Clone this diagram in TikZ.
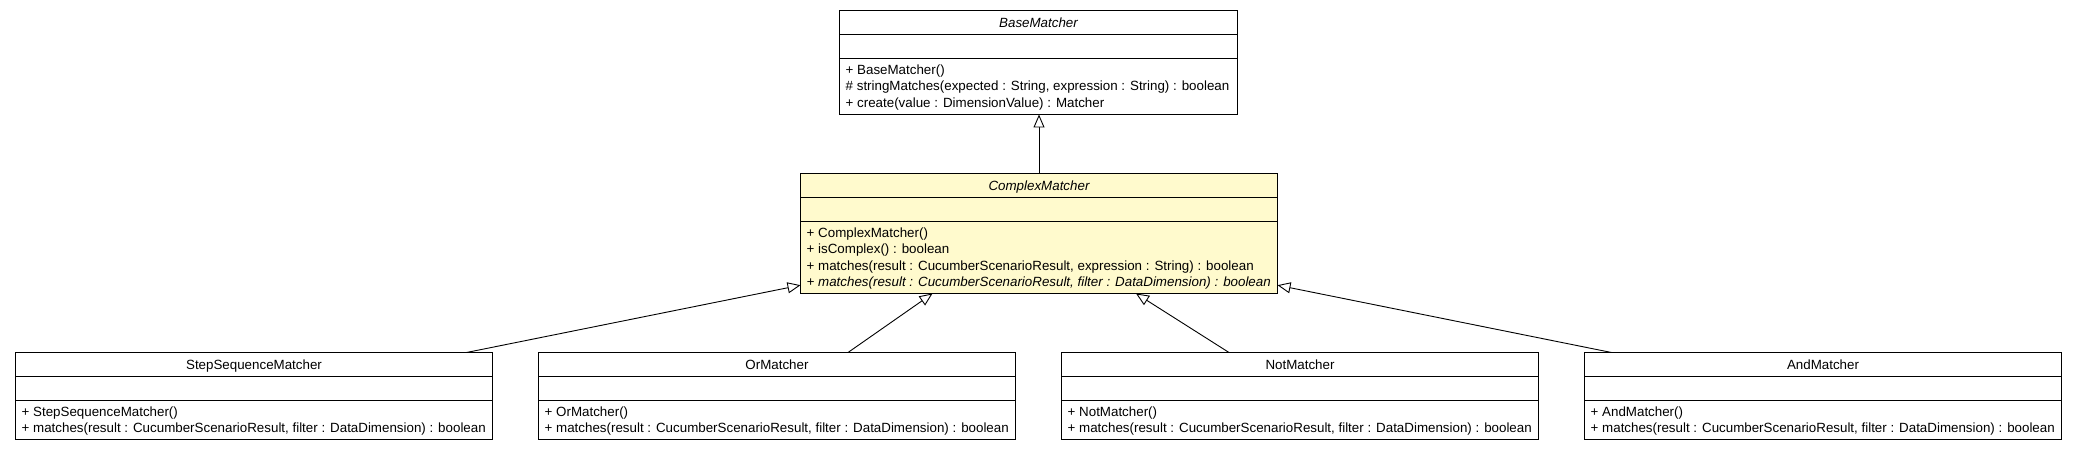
\documentclass[tikz,border=0pt]{standalone}
\usepackage{fontspec}
\setmainfont{Liberation Sans}
\usetikzlibrary{arrows.meta,calc}
\definecolor{abstractfill}{RGB}{255,250,205}
\newcommand{\umlclass}[8]{%
  \node[classbox, fill=#6, minimum width=#4bp, minimum height=#5bp, anchor=north west] (#1) at (#2,-#3) {};
  \draw[seprule] ($(#1.north west)+(0,-24)$) -- ($(#1.north east)+(0,-24)$);
  \draw[seprule] ($(#1.north west)+(0,-48)$) -- ($(#1.north east)+(0,-48)$);
  \node[ttl] (#1-t) at ($(#1.north)+(0,-12)$) {#7};
  \node[ops] (#1-o) at ($(#1.north west)+(6,-54)$) {#8};
}
\begin{document}
\begin{tikzpicture}[x=1bp,y=1bp,
  classbox/.style={draw=black, line width=1bp, inner sep=0pt, outer sep=0pt},
  seprule/.style={draw=black, line width=1bp},
  ttl/.style={font=\fontsize{13.4}{16.5}\selectfont, text height=11pt, text depth=1.6pt, inner sep=0pt, anchor=center},
  ops/.style={font=\fontsize{13.4}{16.5}\selectfont, align=left, anchor=north west, inner sep=0pt},
  inherit/.style={draw=black, line width=0.9bp, -{Triangle[length=13bp,width=11bp,fill=white]}},
]
\useasboundingbox[fill=white] (0,0) rectangle (2077,-451);

\umlclass{base}{839.5}{10.5}{398}{104}{white}{\itshape BaseMatcher}%
  {+ BaseMatcher()\\\# stringMatches(expected : String, expression : String) : boolean\\+ create(value : DimensionValue) : Matcher}

\umlclass{complex}{800.5}{173.5}{477}{120}{abstractfill}{\itshape ComplexMatcher}%
  {+ ComplexMatcher()\\+ isComplex() : boolean\\+ matches(result : CucumberScenarioResult, expression : String) : boolean\\\itshape + matches(result : CucumberScenarioResult, filter : DataDimension) : boolean}

\umlclass{step}{15.5}{352.5}{477}{87}{white}{StepSequenceMatcher}%
  {+ StepSequenceMatcher()\\+ matches(result : CucumberScenarioResult, filter : DataDimension) : boolean}

\umlclass{ormatch}{538.5}{352.5}{477}{87}{white}{OrMatcher}%
  {+ OrMatcher()\\+ matches(result : CucumberScenarioResult, filter : DataDimension) : boolean}

\umlclass{notmatch}{1061.5}{352.5}{477}{87}{white}{NotMatcher}%
  {+ NotMatcher()\\+ matches(result : CucumberScenarioResult, filter : DataDimension) : boolean}

\umlclass{andmatch}{1584.5}{352.5}{477}{87}{white}{AndMatcher}%
  {+ AndMatcher()\\+ matches(result : CucumberScenarioResult, filter : DataDimension) : boolean}

\draw[inherit] (complex.north) -- (complex.north |- base.south);
\draw[inherit] ($(step.north east)+(-26,0)$) -- ($(complex.south west)+(0,8.3)$);
\draw[inherit] ($(ormatch.north)+(71,0)$) -- ($(complex.south)+(-106.5,0)$);
\draw[inherit] ($(notmatch.north)+(-71,0)$) -- ($(complex.south)+(97,0)$);
\draw[inherit] ($(andmatch.north west)+(27,0)$) -- ($(complex.south east)+(0,8.3)$);
\end{tikzpicture}
\end{document}
